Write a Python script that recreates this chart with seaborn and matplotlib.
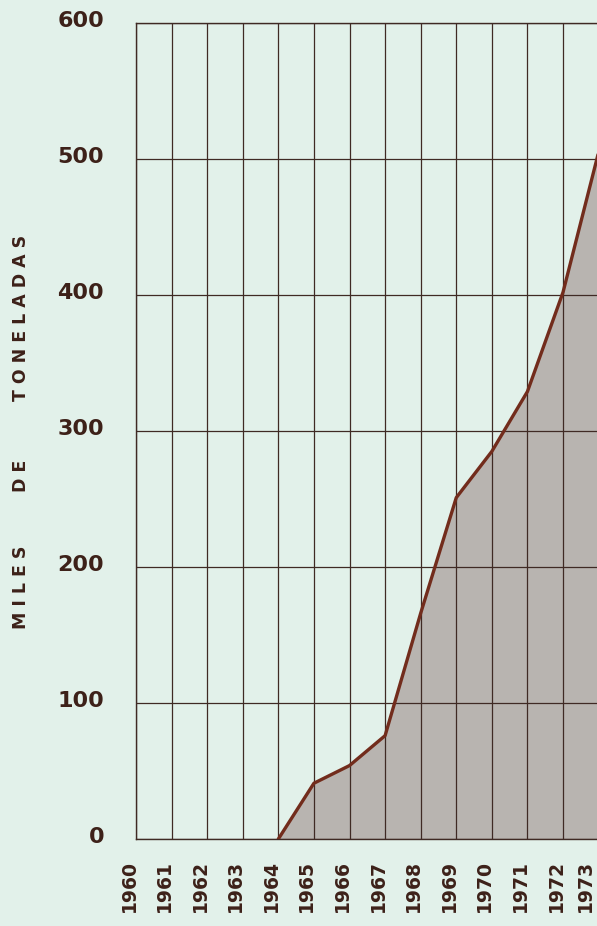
import numpy as np
import pandas as pd
import matplotlib
matplotlib.use("Agg")
import matplotlib.pyplot as plt
import matplotlib.transforms as mtransforms
import seaborn as sns

# ---- data ----
tick_years = [1960, 1961, 1962, 1963, 1964, 1965, 1966, 1967, 1968, 1969, 1970, 1971, 1972, 1973]
years = [1964, 1965, 1966, 1967, 1968, 1969, 1970, 1971, 1972, 1973]
values = [0, 41, 54, 76, 166, 251, 285, 329, 402, 505]
y_ticks = [0, 100, 200, 300, 400, 500, 600]
y_label_words = ["M I L E S", "D E", "T O N E L A D A S"]

bg = "#e2f1ea"
ink = "#3d2119"
grid_c = "#3f2a24"
line_c = "#722c1c"
fill_c = "#b8b4b0"

sns.set_style("white")
plt.rcParams["font.family"] = ["DejaVu Sans"]

fig = plt.figure(figsize=(5.97, 9.26), dpi=100)
fig.patch.set_facecolor(bg)
ax = fig.add_axes([136 / 597, 87 / 926, 462.6 / 597, 816 / 926])
ax.set_facecolor(bg)

df = pd.DataFrame({"year": years, "value": values})
ax.fill_between(df["year"], 0, df["value"], color=fill_c, zorder=1, linewidth=0)
sns.lineplot(data=df, x="year", y="value", ax=ax, color=line_c, linewidth=2.4, zorder=3)

ax.set_xlim(1960, 1973)
ax.set_ylim(0, 600)
ax.set_xticks(tick_years)
ax.set_xticklabels([str(y) for y in tick_years], rotation=90, fontsize=13.5,
                   color=ink, fontweight="bold")
ax.set_yticks(y_ticks)
ax.set_yticklabels([str(v) for v in y_ticks], fontsize=16, color=ink, fontweight="bold")
ax.tick_params(axis="x", length=0, pad=15)
ax.tick_params(axis="y", length=0, pad=23)

for i, lab in enumerate(ax.get_xticklabels()):
    lab.set_verticalalignment("top")
    dx = -13 if i == len(tick_years) - 1 else -7
    lab.set_transform(lab.get_transform() +
                      mtransforms.ScaledTranslation(dx / 100, 0, fig.dpi_scale_trans))
for lab in ax.get_yticklabels():
    lab.set_transform(lab.get_transform() +
                      mtransforms.ScaledTranslation(0, 4 / 100, fig.dpi_scale_trans))

ax.set_axisbelow(False)
ax.grid(True, color=grid_c, linewidth=0.9, zorder=2)
for side in ["left", "top", "bottom", "right"]:
    ax.spines[side].set_color(grid_c)
    ax.spines[side].set_linewidth(1.0)

ax.set_xlabel("")
ax.set_ylabel("")
word_centers = [587, 476, 318]
for word, yc in zip(y_label_words, word_centers):
    fig.text(21 / 597, 1 - yc / 926, word, rotation=90, ha="center", va="center",
             fontsize=12.5, color=ink, fontweight="bold")

fig.savefig("out.png", dpi=100, facecolor=bg)
